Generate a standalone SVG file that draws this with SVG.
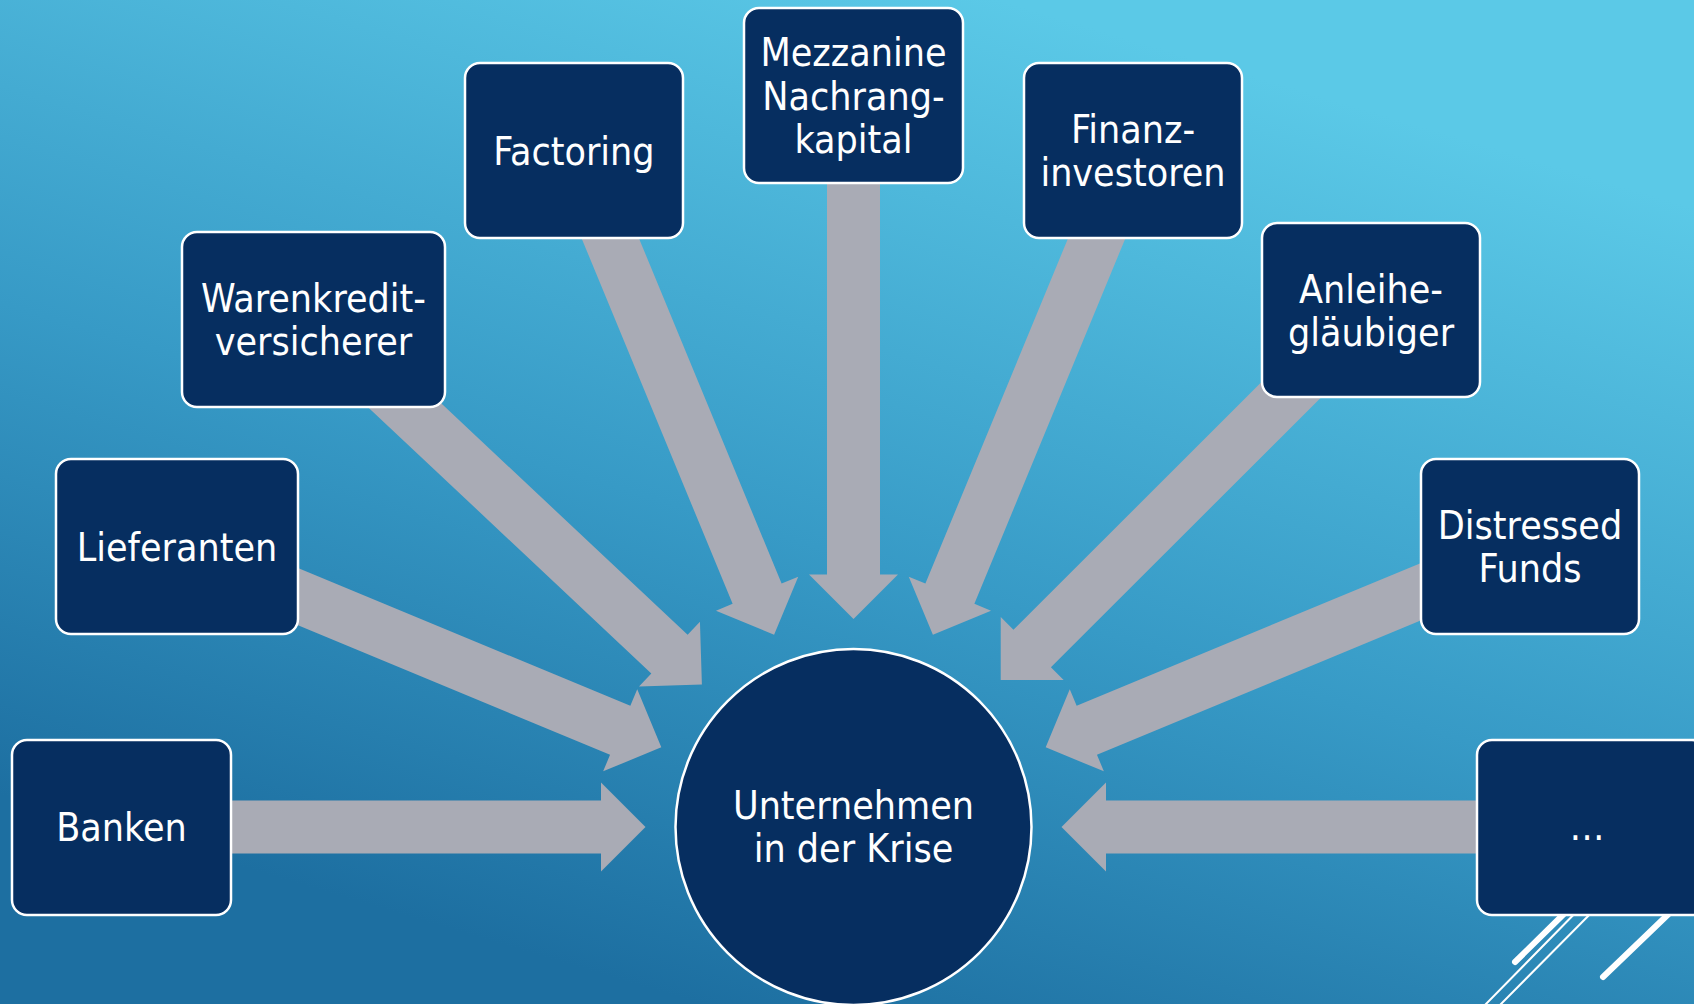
<svg xmlns="http://www.w3.org/2000/svg" width="1694" height="1004" viewBox="0 0 1694 1004">
<defs>
<linearGradient id="bg" gradientUnits="userSpaceOnUse" x1="1000" y1="0" x2="700" y2="1004">
<stop offset="0" stop-color="#5BC9E7"/>
<stop offset="0.55" stop-color="#379AC6"/>
<stop offset="1" stop-color="#1D6FA1"/>
</linearGradient>
<style>
.box{fill:#062E60;stroke:#FFFFFF;stroke-width:2.5}
.arr{fill:#A9ABB5}
.lbl{font-family:"DejaVu Sans Condensed","DejaVu Sans","Liberation Sans",sans-serif;font-size:39px;fill:#FFFFFF;text-anchor:middle}
.deco{stroke:#FFFFFF;stroke-linecap:round;fill:none}
</style>
</defs>
<rect x="0" y="0" width="1694" height="1004" fill="url(#bg)"/>
<g id="decoration">
<line class="deco" x1="1575" y1="903" x2="1515" y2="962" stroke-width="6"/>
<line class="deco" x1="1590" y1="898" x2="1484" y2="1006" stroke-width="2"/>
<line class="deco" x1="1606" y1="898" x2="1499" y2="1006" stroke-width="2"/>
<line class="deco" x1="1680" y1="903" x2="1603" y2="977" stroke-width="6"/>
</g>
<g id="connectors">
<polygon class="arr" points="0,0 -44.5,-44.5 -44.5,-26.5 -524,-26.5 -524,26.5 -44.5,26.5 -44.5,44.5" transform="translate(645.5,827) rotate(0)"/>
<polygon class="arr" points="0,0 -44.5,-44.5 -44.5,-26.5 -524,-26.5 -524,26.5 -44.5,26.5 -44.5,44.5" transform="translate(661.3,747.3) rotate(22.52)"/>
<polygon class="arr" points="0,0 -44.5,-44.5 -44.5,-26.5 -533,-26.5 -533,26.5 -44.5,26.5 -44.5,44.5" transform="translate(701.9,684.6) rotate(43.22)"/>
<polygon class="arr" points="0,0 -44.5,-44.5 -44.5,-26.5 -524,-26.5 -524,26.5 -44.5,26.5 -44.5,44.5" transform="translate(774.1,634.8) rotate(67.55)"/>
<polygon class="arr" points="0,0 -44.5,-44.5 -44.5,-26.5 -524,-26.5 -524,26.5 -44.5,26.5 -44.5,44.5" transform="translate(853.5,619) rotate(90)"/>
<polygon class="arr" points="0,0 -44.5,-44.5 -44.5,-26.5 -524,-26.5 -524,26.5 -44.5,26.5 -44.5,44.5" transform="translate(932.9,634.8) rotate(112.45)"/>
<polygon class="arr" points="0,0 -44.5,-44.5 -44.5,-26.5 -524,-26.5 -524,26.5 -44.5,26.5 -44.5,44.5" transform="translate(1000.7,680) rotate(135.03)"/>
<polygon class="arr" points="0,0 -44.5,-44.5 -44.5,-26.5 -524,-26.5 -524,26.5 -44.5,26.5 -44.5,44.5" transform="translate(1045.7,747.3) rotate(157.48)"/>
<polygon class="arr" points="0,0 -44.5,-44.5 -44.5,-26.5 -524,-26.5 -524,26.5 -44.5,26.5 -44.5,44.5" transform="translate(1061.5,827) rotate(180)"/>
</g>
<g id="center">
<circle class="box" cx="853.5" cy="827" r="178"/>
<text class="lbl" x="853.5" y="819">Unternehmen</text>
<text class="lbl" x="853.5" y="862">in der Krise</text>
</g>
<g id="banken">
<rect class="box" x="12" y="740" width="219" height="175" rx="15"/>
<text class="lbl" x="121.5" y="841">Banken</text>
</g>
<g id="lieferanten">
<rect class="box" x="56" y="459" width="242" height="175" rx="15"/>
<text class="lbl" x="177" y="560.5">Lieferanten</text>
</g>
<g id="warenkredit">
<rect class="box" x="182" y="232" width="263" height="175" rx="15"/>
<text class="lbl" x="313.5" y="312">Warenkredit-</text>
<text class="lbl" x="313.5" y="355">versicherer</text>
</g>
<g id="factoring">
<rect class="box" x="465" y="63" width="218" height="175" rx="15"/>
<text class="lbl" x="574" y="164.5">Factoring</text>
</g>
<g id="mezzanine">
<rect class="box" x="744" y="8" width="219" height="175" rx="15"/>
<text class="lbl" x="853.5" y="65.5">Mezzanine</text>
<text class="lbl" x="853.5" y="109.5">Nachrang-</text>
<text class="lbl" x="853.5" y="152.5">kapital</text>
</g>
<g id="finanzinvestoren">
<rect class="box" x="1024" y="63" width="218" height="175" rx="15"/>
<text class="lbl" x="1133" y="143">Finanz-</text>
<text class="lbl" x="1133" y="186">investoren</text>
</g>
<g id="anleihe">
<rect class="box" x="1262" y="223" width="218" height="174" rx="15"/>
<text class="lbl" x="1371" y="302.5">Anleihe-</text>
<text class="lbl" x="1371" y="345.5">gläubiger</text>
</g>
<g id="distressed">
<rect class="box" x="1421" y="459" width="218" height="175" rx="15"/>
<text class="lbl" x="1530" y="539">Distressed</text>
<text class="lbl" x="1530" y="582">Funds</text>
</g>
<g id="more">
<rect class="box" x="1477" y="740" width="230" height="175" rx="15"/>
<text class="lbl" x="1587" y="840">…</text>
</g>
</svg>
